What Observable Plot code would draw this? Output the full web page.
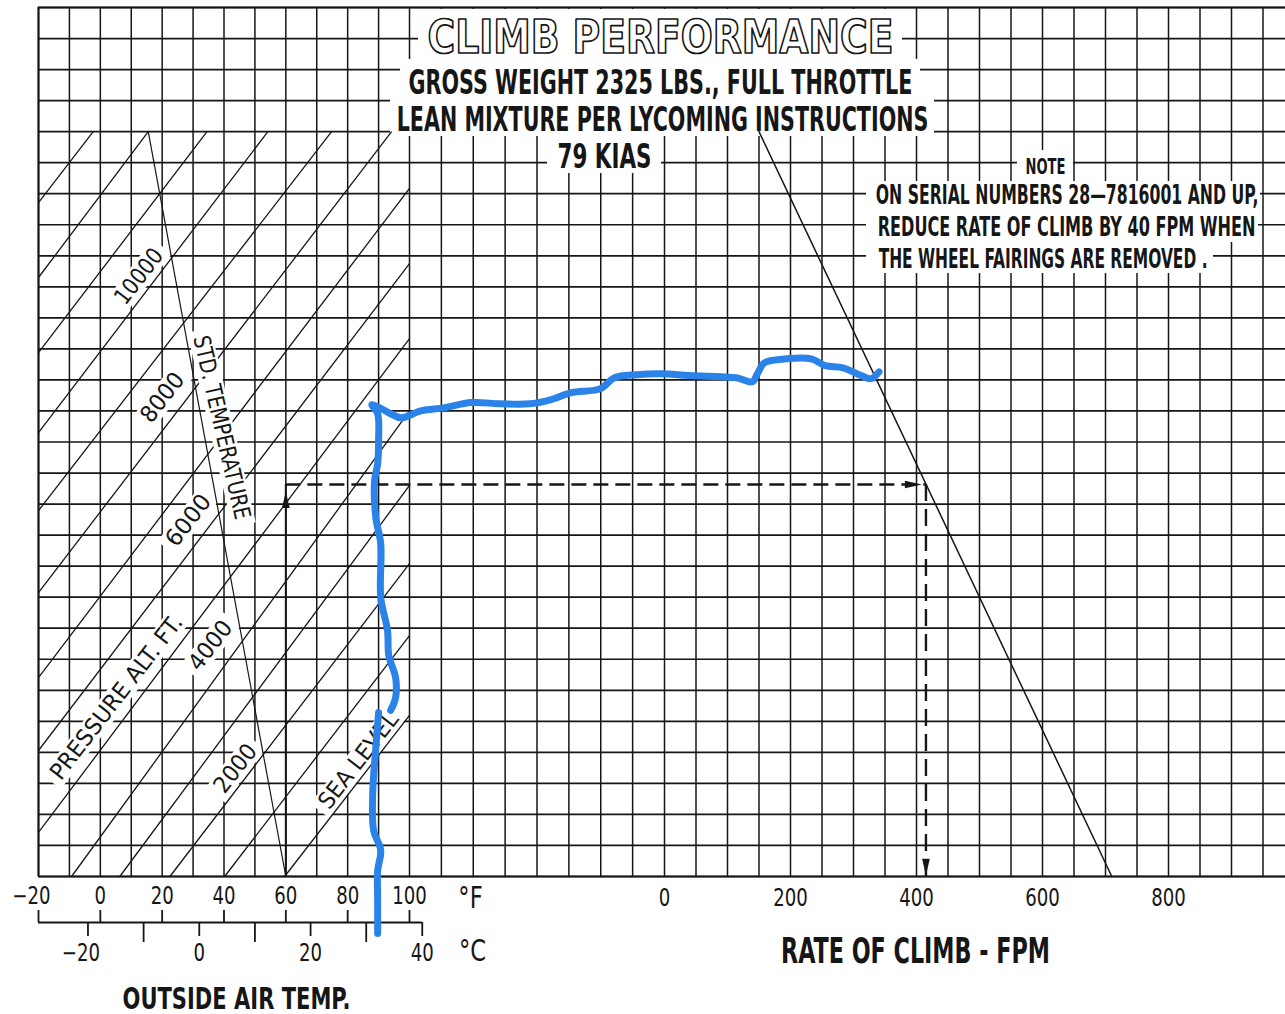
<!DOCTYPE html>
<html>
<head>
<meta charset="utf-8">
<script src="https://cdn.jsdelivr.net/npm/d3@7"></script>
<script src="https://cdn.jsdelivr.net/npm/@observablehq/plot@0.6"></script>
<style>
  html, body { margin: 0; padding: 0; background: #fff; }
  #chart svg { display: block; }
</style>
</head>
<body>
<div id="chart"></div>
<script>
// ------------------------------------------------------------------
// DATA
// ------------------------------------------------------------------
const tempTicksF = [-20, 0, 20, 40, 60, 80, 100];
const tempTicksC = [-20, -10, 0, 10, 20, 30, 40];
const tempLabelsC = [-20, 0, 20, 40];
const rocTicks = [0, 200, 400, 600, 800];

// pressure-altitude lines: lower-left and upper-right ends (°F, grid row)
const paAltFt   = [0, 1000, 2000, 3000, 4000, 5000, 6000, 7000, 8000, 9000, 10000, 11000, 12000, 13000];
const paLoTempF = [59.6, 40.2, 22.5, 6.3, -9.3, -20, -20, -20, -20, -20, -20, -20, -20, -20];
const paLoRow   = [0, 0, 0, 0, 0, 1.42, 4.06, 6.41, 9.15, 11.79, 14.3, 16.88, 19.3, 21.71];
const paHiTempF = [100, 100, 100, 100, 100, 100, 100, 100, 94.2, 74.8, 54.2, 34.5, 15.5, -2.3];
const paHiRow   = [5.19, 7.76, 10.08, 12.6, 15.0, 17.33, 19.75, 22.17, 24, 24, 24, 24, 24, 24];

// standard temperature line (°F, row)
const stdTempF = [15.5, 60];
const stdTempRow = [24, 0];

// rate-of-climb line (FPM, row)
const rocLineFpm = [150, 710];
const rocLineRow = [24, 0];

// worked example
const exampleTempF = 60;
const exampleRow = 12.63;
const exampleRocFpm = 415;

// hand-drawn blue trace (grid column, grid row)
const blueA_col = [11.00, 10.91, 10.81, 10.84, 11.07, 10.97, 10.97, 10.97];
const blueA_row = [5.28, 4.15, 2.67, 1.48, 0.84, 0.19, -0.77, -1.84];
const blueB_col = [11.39, 11.55, 11.55, 11.33, 11.29, 11.07, 11.07, 10.91, 10.87, 10.97, 11.00, 10.97, 10.78, 11.04, 11.39, 11.72, 12.38, 13.07, 13.94, 14.85, 15.76, 16.42, 17.08, 17.99, 18.43, 19.12, 19.90, 20.79, 22.28, 22.79, 22.95, 23.17, 23.87, 24.66, 25.10, 25.67, 26.24, 26.56, 26.81];
const blueB_row = [5.35, 5.76, 6.41, 7.12, 7.92, 8.99, 10.72, 11.56, 12.75, 13.30, 14.04, 14.91, 15.20, 15.10, 14.91, 14.78, 15.01, 15.10, 15.27, 15.23, 15.23, 15.36, 15.59, 15.72, 16.07, 16.17, 16.20, 16.14, 16.07, 15.94, 16.20, 16.55, 16.68, 16.68, 16.46, 16.39, 16.14, 16.04, 16.26];

// texts
const titleLines = ["CLIMB PERFORMANCE", "GROSS WEIGHT 2325 LBS., FULL THROTTLE", "LEAN MIXTURE PER LYCOMING INSTRUCTIONS", "79 KIAS"];
const noteHead = "NOTE";
const noteLines = ["ON SERIAL NUMBERS 28\u20147816001 AND UP,", "REDUCE RATE OF CLIMB BY 40 FPM WHEN", "THE WHEEL FAIRINGS ARE REMOVED ."];
const altLabels = ["10000", "8000", "6000", "4000", "2000", "SEA LEVEL", "PRESSURE ALT. FT."];
const stdLabel = "STD. TEMPERATURE";
const xTitleTemp = "OUTSIDE AIR TEMP.";
const xTitleRoc = "RATE OF CLIMB - FPM";
const unitF = "\u00B0F", unitC = "\u00B0C";

// ------------------------------------------------------------------
// LAYOUT (positions in page pixels, converted to grid units)
// ------------------------------------------------------------------
const ink = "#161616";
const blue = "#2b83ea";
const FONT = "'DejaVu Sans Condensed','Liberation Sans Narrow','DejaVu Sans',sans-serif";
const fToCol = f => (f + 20) / 10;
const cToCol = c => fToCol(c * 9 / 5 + 32);
const rocToCol = r => 20 + r / 50;
const fmt = v => v < 0 ? "\u2212" + Math.abs(v) : String(v);

// page pixel <-> grid unit helpers (same stops as the plot's piecewise x scale)
const colStops = [0, 12, 20, 36], pxStops = [38, 409, 664, 1168];
const xs = d3.scaleLinear(pxStops, colStops);
const ys = d3.scaleLinear([876, 7], [0, 28]);
const xMax = xs(1285);

const titleLayout = [
  {x: 660, y: 52, size: 46, w: 466, box: [418, 902, 9, 59]},
  {x: 660, y: 93, size: 34, w: 504, box: [400, 920, 59, 99]},
  {x: 662, y: 130, size: 34, w: 532, box: [390, 934, 99, 136]},
  {x: 604, y: 167, size: 33, w: 94, box: [547, 661, 136, 173]}
];
const noteHeadLayout = {x: 1045, y: 173, size: 22, w: 40, box: [1017, 1073, 150, 181]};
const noteLayout = [
  {x: 1258, y: 203, w: 383, box: [866, 1260, 181, 211]},
  {x: 1255, y: 235, w: 378, box: [866, 1258, 211, 242]},
  {x: 1207, y: 267, w: 329, box: [866, 1213, 242, 273]}
];
const altAngle = 52.3;
const altLayout = [
  {x: 138.5, y: 276, w: 64},
  {x: 162, y: 397, w: 56},
  {x: 188, y: 520, w: 59},
  {x: 210, y: 645, w: 56},
  {x: 235, y: 768, w: 55},
  {x: 358, y: 760, w: 115},
  {x: 116, y: 697, w: 201}
];
const stdLayout = {x: 221, y: 427, w: 188, angle: 77};
const tickCondense = 0.84;

const widths = new Map();
titleLines.forEach((t, i) => widths.set(t, titleLayout[i].w));
widths.set(noteHead, noteHeadLayout.w);
noteLines.forEach((t, i) => widths.set(t, noteLayout[i].w));
altLabels.forEach((t, i) => widths.set(t, altLayout[i].w));
widths.set(stdLabel, stdLayout.w);
widths.set(xTitleTemp, 228);
widths.set(xTitleRoc, 269);

const titleData = titleLines.map((t, i) => ({t, ...titleLayout[i]}));
const noteData = noteLines.map((t, i) => ({t, ...noteLayout[i]}));
const altData = altLabels.map((t, i) => ({t, ...altLayout[i]}));
const boxes = [...titleLayout, noteHeadLayout, ...noteLayout].map(d => d.box);
// white bands under the rotated labels (along the label direction)
const band = (d, angleDeg, down) => {
  const a = angleDeg * Math.PI / 180, h = d.w / 2 + 6;
  const dx = h * Math.cos(a), dy = h * Math.sin(a) * (down ? 1 : -1);
  return {x1: xs(d.x - dx), y1: ys(d.y - dy), x2: xs(d.x + dx), y2: ys(d.y + dy)};
};
const altBands = altLayout.map(d => band(d, altAngle, false));
const stdBand = [band(stdLayout, stdLayout.angle, true)];
const paIdx = paAltFt.map((_, i) => i);

const arrowHead = {
  draw(ctx, size) {
    const r = Math.sqrt(size / Math.PI);
    ctx.moveTo(0, -r);
    ctx.lineTo(0.45 * r, r);
    ctx.lineTo(-0.45 * r, r);
    ctx.closePath();
  }
};

const blueData = [
  ...blueA_col.map((c, i) => ({c, r: blueA_row[i], s: "A"})),
  ...blueB_col.map((c, i) => ({c, r: blueB_row[i], s: "B"}))
];

const txt = {fontFamily: FONT, fill: ink};

const chart = Plot.plot({
  width: 1285,
  height: 1014,
  margin: 0,
  x: {type: "linear", domain: colStops, range: pxStops, axis: null},
  y: {type: "linear", domain: [0, 28], range: [876, 7], axis: null},
  style: {background: "white", overflow: "visible"},
  marks: [
    // grid
    Plot.ruleX(d3.range(0, 40), {x: d => d, y1: 0, y2: 28, stroke: ink, strokeWidth: 1.5}),
    Plot.ruleY(d3.range(0, 29), {y: d => d, x1: 0, x2: xMax, stroke: ink, strokeWidth: 1.7}),
    Plot.ruleY([0], {x1: 0, x2: xMax, stroke: ink, strokeWidth: 2.2}),
    Plot.ruleX([0], {y1: 0, y2: 28, stroke: ink, strokeWidth: 2}),
    Plot.ruleY([28], {x1: 0, x2: xMax, stroke: ink, strokeWidth: 2}),

    // white boxes behind titles and note
    Plot.rect(boxes, {x1: b => xs(b[0]), x2: b => xs(b[1]), y1: b => ys(b[3]), y2: b => ys(b[2]), fill: "white"}),
    // white bands behind rotated altitude labels
    Plot.link(altBands, {x1: "x1", y1: "y1", x2: "x2", y2: "y2", stroke: "white", strokeWidth: 24, strokeLinecap: "butt"}),

    // pressure altitude lines
    Plot.link(paIdx, {
      x1: i => fToCol(paLoTempF[i]), y1: i => paLoRow[i],
      x2: i => fToCol(paHiTempF[i]), y2: i => paHiRow[i],
      stroke: ink, strokeWidth: 1.3
    }),
    // band behind the std temperature label (cuts the lines crossing it)
    Plot.link(stdBand, {x1: "x1", y1: "y1", x2: "x2", y2: "y2", stroke: "white", strokeWidth: 24, strokeLinecap: "butt"}),
    // standard temperature
    Plot.line(stdTempF.map((f, i) => [fToCol(f), stdTempRow[i]]), {stroke: ink, strokeWidth: 1.2}),
    // rate of climb line
    Plot.line(rocLineFpm.map((r, i) => [rocToCol(r), rocLineRow[i]]), {stroke: ink, strokeWidth: 1.5}),

    // worked example
    Plot.ruleX([exampleTempF], {x: fToCol, y1: 0, y2: exampleRow, stroke: ink, strokeWidth: 2}),
    Plot.ruleY([exampleRow], {y: d => d, x1: fToCol(exampleTempF), x2: rocToCol(exampleRocFpm), stroke: ink, strokeWidth: 2.4, strokeDasharray: "15,7"}),
    Plot.ruleX([exampleRocFpm], {x: rocToCol, y1: 0, y2: exampleRow, stroke: ink, strokeWidth: 2.4, strokeDasharray: "17,8"}),
    Plot.dot([exampleTempF], {x: fToCol, y: exampleRow - 0.48, r: 8.5, symbol: arrowHead, fill: ink, stroke: "none"}),
    Plot.dot([exampleRocFpm], {x: d => rocToCol(d - 20), y: exampleRow, r: 8.5, symbol: arrowHead, rotate: 90, fill: ink, stroke: "none"}),
    Plot.dot([exampleRocFpm], {x: rocToCol, y: 0.3, r: 8.5, symbol: arrowHead, rotate: 180, fill: ink, stroke: "none"}),

    // titles
    Plot.text([titleData[0]], {x: d => xs(d.x), y: d => ys(d.y), text: "t", fontFamily: FONT, fontSize: 46, fontWeight: "bold", lineAnchor: "bottom", fill: "white", stroke: ink, strokeWidth: 1.7, paintOrder: "normal"}),
    Plot.text(titleData.slice(1), {...txt, x: d => xs(d.x), y: d => ys(d.y), text: "t", fontSize: "size", fontWeight: "bold", lineAnchor: "bottom"}),
    Plot.text([{t: noteHead, ...noteHeadLayout}], {...txt, x: d => xs(d.x), y: d => ys(d.y), text: "t", fontSize: 22, fontWeight: "bold", lineAnchor: "bottom"}),
    Plot.text(noteData, {...txt, x: d => xs(d.x), y: d => ys(d.y), text: "t", fontSize: 27, fontWeight: "bold", lineAnchor: "bottom", textAnchor: "end"}),
    Plot.text(altData, {...txt, x: d => xs(d.x), y: d => ys(d.y), text: "t", fontSize: 23, rotate: -altAngle, lineAnchor: "middle"}),
    Plot.text([{t: stdLabel, ...stdLayout}], {...txt, x: d => xs(d.x), y: d => ys(d.y), text: "t", fontSize: 23, rotate: stdLayout.angle, lineAnchor: "middle"}),

    // °F tick labels
    Plot.text(tempTicksF.filter(d => d >= 0), {...txt, x: fToCol, y: ys(903), text: fmt, fontSize: 24, lineAnchor: "bottom"}),
    Plot.text(tempTicksF.filter(d => d < 0), {...txt, x: fToCol, y: ys(903), text: fmt, dx: -7, fontSize: 24, lineAnchor: "bottom"}),
    Plot.text([unitF], {...txt, x: xs(470), y: ys(907), text: d => d, fontSize: 30, lineAnchor: "bottom"}),
    // FPM tick labels
    Plot.text(rocTicks, {...txt, x: rocToCol, y: ys(905), text: fmt, fontSize: 24, lineAnchor: "bottom"}),

    // °C scale
    Plot.ruleY([ys(922)], {y: d => d, x1: fToCol(-20), x2: cToCol(40), stroke: ink, strokeWidth: 1.8}),
    Plot.ruleX(tempTicksF, {x: fToCol, y1: ys(922), y2: ys(910), stroke: ink, strokeWidth: 1.8}),
    Plot.ruleX(tempTicksC, {x: cToCol, y1: ys(922), y2: d => tempLabelsC.includes(d) ? ys(936) : ys(942), stroke: ink, strokeWidth: 1.8}),
    Plot.text(tempLabelsC.filter(d => d >= 0), {...txt, x: cToCol, y: ys(960), text: fmt, fontSize: 24, lineAnchor: "bottom"}),
    Plot.text(tempLabelsC.filter(d => d < 0), {...txt, x: cToCol, y: ys(960), text: fmt, dx: -7, fontSize: 24, lineAnchor: "bottom"}),
    Plot.text([unitC], {...txt, x: xs(472), y: ys(960), text: d => d, fontSize: 30, lineAnchor: "bottom"}),

    // axis titles
    Plot.text([xTitleRoc], {...txt, x: xs(915), y: ys(962), text: d => d, fontSize: 36, fontWeight: "bold", lineAnchor: "bottom"}),
    Plot.text([xTitleTemp], {...txt, x: xs(236), y: ys(1008), text: d => d, fontSize: 31, fontWeight: "bold", lineAnchor: "bottom"}),

    // hand-drawn blue trace
    Plot.line(blueData, {x: "c", y: "r", z: "s", curve: "catmull-rom", stroke: blue, strokeWidth: 7, strokeLinecap: "round", strokeLinejoin: "round"})
  ]
});

document.getElementById("chart").appendChild(chart);

// condense the lettering horizontally (the original uses a narrow typeface)
chart.querySelectorAll("text").forEach(t => {
  const w = widths.get(t.textContent);
  const natural = t.getComputedTextLength();
  if (!natural) return;
  const sx = w ? w / natural : tickCondense;
  const tr = t.getAttribute("transform");
  if (tr) {
    t.setAttribute("transform", `${tr} scale(${sx},1)`);
  } else {
    const x = +t.getAttribute("x") || 0, y = +t.getAttribute("y") || 0;
    t.removeAttribute("x");
    t.removeAttribute("y");
    t.setAttribute("transform", `translate(${x},${y}) scale(${sx},1)`);
  }
});
</script>
</body>
</html>
